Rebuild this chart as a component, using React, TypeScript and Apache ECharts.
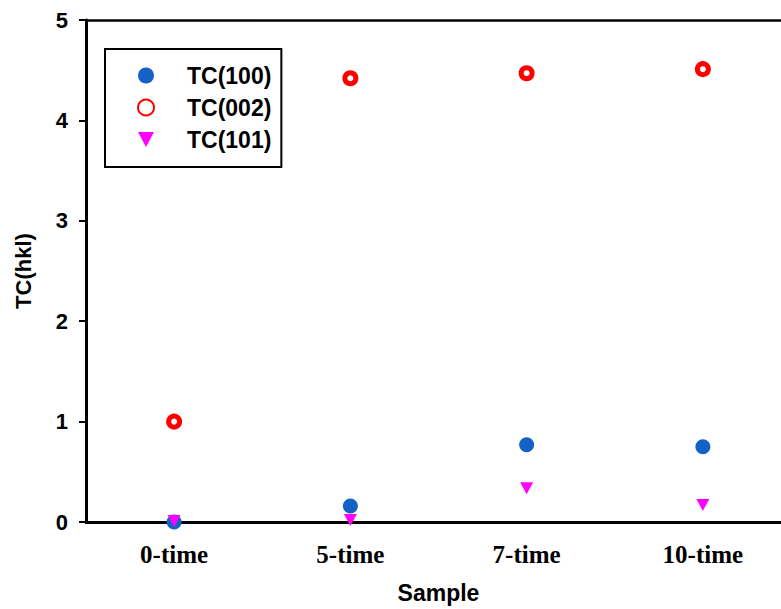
import React, { useEffect, useRef } from "react";
import * as echarts from "echarts";

const categories = ["0-time", "5-time", "7-time", "10-time"];
const tc100 = [0.0, 0.16, 0.77, 0.75];
const tc002 = [1.0, 4.42, 4.47, 4.51];
const tc101 = [0.01, 0.02, 0.335, 0.17];
const yTicks = [0, 1, 2, 3, 4, 5];

const SANS = "'Liberation Sans', Arial, sans-serif";
const SERIF = "'Liberation Serif', 'Times New Roman', serif";
const DOWN_TRIANGLE = "path://M0,0 L13,0 L6.5,12 Z";

export default function App() {
  const ref = useRef<HTMLDivElement>(null);
  useEffect(() => {
    if (!ref.current) return;
    const chart = echarts.init(ref.current, undefined, { renderer: "svg" });
    chart.setOption({
      animation: false,
      backgroundColor: "#fff",
      grid: {
        left: 86,
        top: 20,
        right: 9,
        bottom: 82,
        show: false,
      },
      legend: {
        orient: "vertical",
        left: 105,
        top: 49,
        itemWidth: 16,
        itemHeight: 16,
        itemGap: 9,
        borderColor: "#000",
        borderWidth: 2,
        padding: [15, 10, 16, 32],
        textStyle: {
          fontFamily: SANS,
          fontWeight: "bold",
          fontSize: 23,
          color: "#000",
          padding: [0, 0, 0, 28],
        },
        data: [
          { name: "TC(100)" },
          { name: "TC(002)" },
          { name: "TC(101)", icon: DOWN_TRIANGLE },
        ],
      },
      xAxis: [
        {
          type: "category",
          data: categories,
          boundaryGap: true,
          name: "Sample",
          nameLocation: "middle",
          nameGap: 59,
          nameTextStyle: { fontFamily: SANS, fontWeight: "bold", fontSize: 23, color: "#000" },
          axisLine: { lineStyle: { color: "#000", width: 3 } },
          axisTick: { alignWithLabel: true, length: 8, lineStyle: { color: "#000", width: 2 } },
          axisLabel: { fontFamily: SERIF, fontWeight: "bold", fontSize: 25, color: "#000", margin: 20 },
          splitLine: { show: false },
        },
        {
          type: "category",
          data: categories,
          position: "top",
          boundaryGap: true,
          axisLine: { show: true, lineStyle: { color: "#000", width: 2.5 } },
          axisTick: { show: false },
          axisLabel: { show: false },
          splitLine: { show: false },
        },
      ],
      yAxis: {
        type: "value",
        min: yTicks[0],
        max: yTicks[yTicks.length - 1],
        interval: 1,
        name: "TC(hkl)",
        nameLocation: "middle",
        nameGap: 52,
        nameTextStyle: { fontFamily: SANS, fontWeight: "bold", fontSize: 22, color: "#000" },
        axisLine: { show: true, lineStyle: { color: "#000", width: 3 } },
        axisTick: { show: true, length: 7, lineStyle: { color: "#000", width: 2 } },
        axisLabel: { fontFamily: SANS, fontWeight: "bold", fontSize: 22, color: "#000", margin: 18 },
        splitLine: { show: false },
      },
      series: [
        {
          name: "TC(100)",
          type: "scatter",
          data: tc100,
          symbol: "circle",
          symbolSize: 15,
          itemStyle: { color: "#1562c6", opacity: 1 },
        },
        {
          name: "TC(002)",
          type: "scatter",
          data: tc002,
          symbol: "circle",
          symbolSize: 11,
          itemStyle: { color: "#ffffff", borderColor: "#ff0000", borderWidth: 5, opacity: 1 },
        },
        {
          name: "TC(101)",
          type: "scatter",
          data: tc101,
          symbol: DOWN_TRIANGLE,
          symbolSize: [13, 12],
          itemStyle: { color: "#ff00ff", opacity: 1 },
        },
      ],
    });
    return () => chart.dispose();
  }, []);
  return (
    <div style={{ position: "absolute", left: 0, top: 0, width: 781, height: 609, overflow: "hidden" }}>
      <div ref={ref} style={{ width: 800, height: 609 }} />
    </div>
  );
}
